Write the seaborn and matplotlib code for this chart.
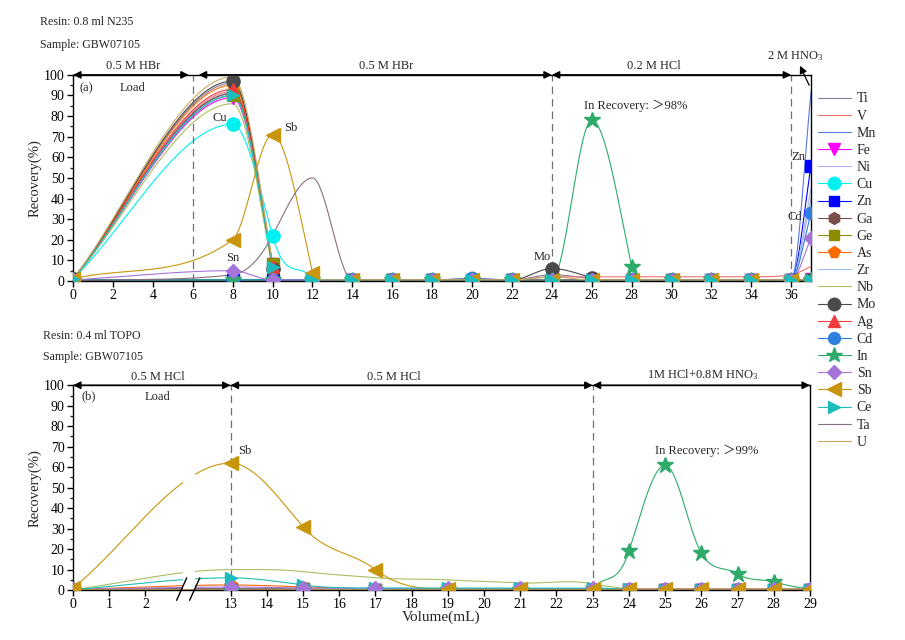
import numpy as np
import pandas as pd
import matplotlib
matplotlib.use("Agg")
import matplotlib.pyplot as plt
from matplotlib.lines import Line2D
from matplotlib.ticker import MultipleLocator
import seaborn as sns

sns.set_theme(style="ticks")
plt.rcParams["font.family"] = ["Liberation Serif", "Noto Sans CJK SC", "DejaVu Sans"]
plt.rcParams["mathtext.fontset"] = "custom"
plt.rcParams["mathtext.rm"] = "Liberation Serif"
plt.rcParams["mathtext.it"] = "Liberation Serif:italic"

# ---------------- data ----------------
elements = ["Ti", "V", "Mn", "Fe", "Ni", "Cu", "Zn", "Ga", "Ge", "As", "Zr",
            "Nb", "Mo", "Ag", "Cd", "In", "Sn", "Sb", "Ce", "Ta", "U"]

# panel (a): 0.8 ml N235
vol_a = [0, 8, 10, 12, 14, 16, 18, 20, 22, 24, 26, 28, 30, 32, 34, 36, 37]
rec_a = {
    "Ti": [1, 96, 7, 0.5, 0.5, 0.5, 0.5, 0.5, 0.5, 3, 1, 0.5, 0.5, 0.5, 0.5, 0.5, 0.5],
    "V":  [1, 92, 6, 0.5, 0.5, 0.5, 0.5, 0.5, 0.5, 2, 2, 2, 2, 2, 2, 3, 7],
    "Mn": [1, 91, 6, 0.5, 0.5, 0.5, 0.5, 0.5, 0.5, 0.5, 0.5, 0.5, 0.5, 0.5, 0.5, 0.5, 92],
    "Fe": [1, 89, 8, 0.5, 0.5, 0.5, 0.5, 0.5, 0.5, 0.5, 0.5, 0.5, 0.5, 0.5, 0.5, 0.5, 1],
    "Ni": [1, 91, 6, 0.5, 0.5, 0.5, 0.5, 0.5, 0.5, 0.5, 0.5, 0.5, 0.5, 0.5, 0.5, 0.5, 40],
    "Cu": [1, 76, 22, 1, 0.5, 0.5, 0.5, 0.5, 0.5, 0.5, 0.5, 0.5, 0.5, 0.5, 0.5, 0.5, 0.5],
    "Zn": [0.5, 0.5, 0.5, 0.5, 0.5, 0.5, 0.5, 0.5, 0.5, 0.5, 0.5, 0.5, 0.5, 0.5, 0.5, 0.5, 56],
    "Ga": [1, 91, 8, 0.5, 0.5, 0.5, 0.5, 0.5, 0.5, 0.5, 0.5, 0.5, 0.5, 0.5, 0.5, 0.5, 0.5],
    "Ge": [1, 90, 8, 0.5, 0.5, 0.5, 0.5, 0.5, 0.5, 0.5, 0.5, 0.5, 0.5, 0.5, 0.5, 0.5, 0.5],
    "As": [1, 95, 7, 0.5, 0.5, 0.5, 0.5, 0.5, 0.5, 0.5, 0.5, 0.5, 0.5, 0.5, 0.5, 0.5, 0.5],
    "Zr": [1, 90, 6, 0.5, 0.5, 0.5, 0.5, 0.5, 0.5, 0.5, 0.5, 0.5, 0.5, 0.5, 0.5, 0.5, 45],
    "Nb": [1, 86, 5, 0.5, 0.5, 0.5, 0.5, 0.5, 0.5, 0.5, 0.5, 0.5, 0.5, 0.5, 0.5, 0.5, 0.5],
    "Mo": [1, 97, 6, 0.5, 0.5, 0.5, 0.5, 0.5, 0.5, 6, 1.5, 0.5, 0.5, 0.5, 0.5, 0.5, 0.5],
    "Ag": [1, 93, 7, 0.5, 0.5, 0.5, 0.5, 1, 0.5, 0.5, 0.5, 0.5, 0.5, 0.5, 0.5, 0.5, 0.5],
    "Cd": [0.5, 0.5, 0.5, 0.5, 0.5, 0.5, 0.5, 1.2, 0.5, 0.5, 0.5, 0.5, 0.5, 0.5, 0.5, 0.5, 33],
    "In": [0.5, 0.5, 0.5, 0.5, 0.5, 0.5, 0.5, 0.5, 0.5, 0.5, 78, 7, 0.5, 0.5, 0.5, 0.5, 0.5],
    "Sn": [0.5, 5, 0.5, 0.5, 0.5, 0.5, 0.5, 0.5, 0.5, 0.5, 0.5, 0.5, 0.5, 0.5, 0.5, 0.5, 21],
    "Sb": [1, 20, 71, 4, 0.5, 0.5, 0.5, 0.5, 0.5, 0.5, 0.5, 0.5, 0.5, 0.5, 0.5, 0.5, 0.5],
    "Ce": [1, 90, 7, 0.5, 0.5, 0.5, 0.5, 0.5, 0.5, 0.5, 0.5, 0.5, 0.5, 0.5, 0.5, 0.5, 0.5],
    "Ta": [0, 3, 22, 50, 0.5, 0.5, 0.5, 0.5, 0.5, 0.5, 0.5, 0.5, 0.5, 0.5, 0.5, 0.5, 0.5],
    "U":  [1, 99, 8, 0.5, 0.5, 0.5, 0.5, 0.5, 0.5, 2, 0.5, 0.5, 0.5, 0.5, 0.5, 0.5, 0.5],
}

# panel (b): 0.4 ml TOPO
vol_b = [0, 13, 15, 17, 19, 21, 23, 24, 25, 26, 27, 28, 29]
rec_b = {
    "Ti": [0.2, 0.3, 0.2, 0.2, 0.2, 0.2, 0.2, 0.2, 0.2, 0.2, 0.2, 0.2, 0.2],
    "V":  [0.2, 0.3, 0.2, 0.2, 0.2, 0.2, 0.2, 0.2, 0.2, 0.2, 0.2, 0.2, 0.2],
    "Mn": [0.2, 0.3, 0.2, 0.2, 0.2, 0.2, 0.2, 0.2, 0.2, 0.2, 0.2, 0.2, 0.2],
    "Fe": [0.2, 0.5, 0.3, 0.2, 0.2, 0.2, 0.2, 0.2, 0.2, 0.2, 0.2, 0.2, 0.2],
    "Ni": [0.2, 0.3, 0.2, 0.2, 0.2, 0.2, 0.2, 0.2, 0.2, 0.2, 0.2, 0.2, 0.2],
    "Cu": [0.2, 0.4, 0.3, 0.2, 0.2, 0.2, 0.2, 0.2, 0.2, 0.2, 0.2, 0.2, 0.2],
    "Zn": [0.2, 0.5, 0.3, 0.2, 0.2, 0.2, 0.2, 0.2, 0.2, 0.2, 0.2, 0.2, 0.2],
    "Ga": [0.2, 0.6, 0.3, 0.2, 0.2, 0.2, 0.2, 0.2, 0.2, 0.2, 0.2, 0.2, 0.2],
    "Ge": [0.2, 0.5, 0.3, 0.2, 0.2, 0.2, 0.2, 0.2, 0.2, 0.2, 0.2, 0.2, 0.2],
    "As": [0.3, 2.5, 1.5, 0.5, 0.3, 0.3, 0.3, 0.3, 0.3, 0.3, 0.3, 0.3, 0.3],
    "Zr": [0.2, 0.4, 0.3, 0.2, 0.2, 0.2, 0.2, 0.2, 0.2, 0.2, 0.2, 0.2, 0.2],
    "Nb": [0.2, 10, 9, 6, 5, 3.5, 3, 0.3, 0.2, 0.2, 0.2, 0.2, 0.2],
    "Mo": [0.2, 0.6, 0.3, 0.2, 0.2, 0.2, 0.2, 0.2, 0.2, 0.2, 0.2, 0.2, 0.2],
    "Ag": [0.2, 0.5, 0.3, 0.2, 0.2, 0.2, 0.2, 0.2, 0.2, 0.2, 0.2, 0.2, 0.2],
    "Cd": [0.2, 0.5, 0.3, 0.2, 0.2, 0.2, 0.2, 0.2, 0.2, 0.2, 0.2, 0.2, 0.2],
    "In": [0.2, 0.2, 0.2, 0.2, 0.2, 0.2, 0.5, 19, 61, 18, 8, 4, 0.2],
    "Sn": [0.3, 1.5, 1, 0.8, 0.8, 0.8, 0.8, 0.6, 0.6, 0.6, 0.6, 0.6, 0.6],
    "Sb": [1, 62, 31, 10, 0.5, 0.5, 0.5, 0.5, 0.5, 0.5, 0.5, 0.5, 0.5],
    "Ce": [0.2, 6, 2.5, 1, 1, 1, 1, 0.3, 0.2, 0.2, 0.2, 0.2, 0.2],
    "Ta": [0.2, 0.3, 0.2, 0.2, 0.2, 0.2, 0.2, 0.2, 0.2, 0.2, 0.2, 0.2, 0.2],
    "U":  [0.2, 0.4, 0.3, 0.2, 0.2, 0.2, 0.2, 0.2, 0.2, 0.2, 0.2, 0.2, 0.2],
}

xticks_a = list(range(0, 37, 2))
xticks_b = [0, 1, 2] + list(range(13, 30))

# ---------------- styles ----------------
colors = {
    "Ti": "#857A9A", "V": "#F07070", "Mn": "#5A78E6", "Fe": "#FF00FF",
    "Ni": "#B8A8F0", "Cu": "#00F0F0", "Zn": "#0000FF", "Ga": "#7A4F4A",
    "Ge": "#8C8C00", "As": "#FF6A00", "Zr": "#9CC0F0", "Nb": "#A8C060",
    "Mo": "#4A4A4A", "Ag": "#EE3B3B", "Cd": "#2F7FE0", "In": "#2EAA6A",
    "Sn": "#A674D9", "Sb": "#C9950C", "Ce": "#1CBCBC", "Ta": "#86707F",
    "U": "#C8A860",
}
markers = {
    "Fe": ("v", 9), "Cu": ("o", 9.5), "Zn": ("s", 8), "Ga": ("h", 9),
    "Ge": ("s", 8), "As": ("p", 9), "Mo": ("o", 9.5), "Ag": ("^", 9),
    "Cd": ("o", 9), "In": ("*", 12), "Sn": ("D", 7.5), "Sb": ("<", 10),
    "Ce": (">", 9),
}

# broken axis for panel (b)
B0, B1, D1 = 3.2, 13.0, 4.35


def fwd(x):
    x = np.asarray(x, float)
    return np.where(x <= B0, x, np.where(x >= B1, x - B1 + D1,
                    B0 + (x - B0) * (D1 - B0) / (B1 - B0)))


def inv(d):
    d = np.asarray(d, float)
    return np.where(d <= B0, d, np.where(d >= D1, d - D1 + B1,
                    B0 + (d - B0) * (B1 - B0) / (D1 - B0)))


def tangents(x, y):
    n = len(x)
    h = np.diff(x)
    d = np.diff(y) / h
    m = np.zeros(n)
    m[0], m[-1] = d[0], d[-1]
    for i in range(1, n - 1):
        if d[i - 1] * d[i] <= 0:
            continue
        s = np.sign(d[i - 1])
        mi = 1.3 * max(abs(d[i - 1]), abs(d[i]))
        j = i - 1 if s > 0 else i
        far = y[i - 1] if s > 0 else y[i + 1]
        if not (far <= 1 and h[j] <= 2.5):
            mi = min(mi, 3 * abs(d[j]))
        m[i] = s * mi
    return m


def smooth(x, y, per=60):
    x = np.asarray(x, float)
    y = np.asarray(y, float)
    m = tangents(x, y)
    xs, ys = [], []
    n = len(x)
    for i in range(n - 1):
        h = x[i + 1] - x[i]
        t = np.linspace(0, 1, per, endpoint=(i == n - 2))
        h00 = 2 * t**3 - 3 * t**2 + 1
        h10 = t**3 - 2 * t**2 + t
        h01 = -2 * t**3 + 3 * t**2
        h11 = t**3 - t**2
        xs.append(x[i] + t * h)
        ys.append(h00 * y[i] + h10 * h * m[i] + h01 * y[i + 1] + h11 * h * m[i + 1])
    return np.concatenate(xs), np.concatenate(ys)


# ---------------- figure ----------------
fig = plt.figure(figsize=(9.05, 6.4), dpi=100)
ax_a = fig.add_axes([0.0807, 0.561, 0.8156, 0.322])
ax_b = fig.add_axes([0.0807, 0.078, 0.8143, 0.320])
ax_b.set_xscale("function", functions=(fwd, inv))

# panel a curves
rows = []
for el in elements:
    xs, ys = smooth(vol_a, rec_a[el])
    rows.append(pd.DataFrame({"x": xs, "y": ys, "el": el}))
df_a = pd.concat(rows, ignore_index=True)
sns.lineplot(data=df_a, x="x", y="y", hue="el", hue_order=elements, palette=colors,
             sort=False, estimator=None, lw=0.8, legend=False, ax=ax_a)
for el in elements:
    if el in markers:
        m, ms = markers[el]
        ax_a.plot(vol_a, rec_a[el], ls="none", marker=m, ms=ms, color=colors[el],
                  mec=colors[el], zorder=3)

# panel b curves (smoothed in the broken-axis display coordinate)
rows = []
for el in elements:
    ds, ys = smooth(fwd(vol_b), rec_b[el])
    rows.append(pd.DataFrame({"x": inv(ds), "y": ys, "el": el}))
df_b = pd.concat(rows, ignore_index=True)
sns.lineplot(data=df_b, x="x", y="y", hue="el", hue_order=elements, palette=colors,
             sort=False, estimator=None, lw=0.8, legend=False, ax=ax_b)
order_b = [e for e in elements if e not in ("Sn", "Sb")] + ["Sn", "Sb"]
for el in order_b:
    if el in markers:
        m, ms = markers[el]
        ax_b.plot(vol_b, rec_b[el], ls="none", marker=m, ms=ms, color=colors[el],
                  mec=colors[el], zorder=3)

# axes cosmetics
for ax in (ax_a, ax_b):
    ax.set_ylim(0, 100)
    ax.yaxis.set_major_locator(MultipleLocator(10))
    ax.yaxis.set_minor_locator(MultipleLocator(5))
    ax.tick_params(axis="both", which="major", direction="out", length=4, width=1,
                   labelsize=10, colors="black", pad=2)
    ax.tick_params(axis="y", which="minor", direction="out", length=2.5, width=1)
    for s in ax.spines.values():
        s.set_color("black")
        s.set_linewidth(1)
        s.set_visible(True)
    ax.set_ylabel("Recovery(%)", fontsize=10.5, labelpad=2)
    ax.set_xlabel("")

ax_a.set_xlim(0, 37)
ax_a.set_xticks(xticks_a)
ax_b.set_xlim(0, 29)
ax_b.set_xticks(xticks_b)
ax_b.set_xticklabels([str(v) for v in xticks_b])
ax_b.xaxis.set_minor_locator(matplotlib.ticker.NullLocator())
ax_b.set_xlabel("Volume(mL)", fontsize=11, labelpad=-1)

# dashed separators
for v in (6, 24, 36):
    ax_a.plot([v, v], [0, 100], color="#707070", lw=0.9, ls=(0, (6, 4)), zorder=2.2)
for v in (13, 23):
    ax_b.plot([v, v], [0, 100], color="#707070", lw=0.9, ls=(0, (6, 4)), zorder=2.2)

# break in panel b
ax_b.axvspan(float(inv(3.03)), float(inv(3.36)), ymin=0.004, ymax=0.99, color="white",
             zorder=2.3, lw=0)
for dc in (3.0, 3.36):
    ax_b.plot(inv([dc - 0.14, dc + 0.14]), [-5, 6], color="black", lw=1,
              clip_on=False, zorder=5)

# arrows along top
arrow_kw = dict(arrowstyle="<|-|>", color="black", lw=1.1, shrinkA=0, shrinkB=0,
                mutation_scale=11)
for a0, a1 in ((0, 5.8), (6.3, 24), (24, 36)):
    ax_a.annotate("", xy=(a0, 100), xytext=(a1, 100), arrowprops=arrow_kw,
                  annotation_clip=False)
for a0, a1 in ((0, 13), (13, 23), (23, 29)):
    ax_b.annotate("", xy=(a0, 100), xytext=(a1, 100), arrowprops=arrow_kw,
                  annotation_clip=False)
ax_a.annotate("2 M HNO$_3$", xy=(36.9, 95), xytext=(36.2, 106), fontsize=9,
              ha="center", va="bottom", annotation_clip=False,
              arrowprops=dict(arrowstyle="<|-", color="black", lw=0.9,
                              shrinkA=0, shrinkB=0, mutation_scale=11))

tk = dict(fontsize=9, ha="center", va="center")
ax_a.text(3, 104.5, "0.5 M HBr", clip_on=False, **tk)
ax_a.text(3, 93.5, "Load", **tk)
ax_a.text(0.65, 93.5, "(a)", **tk)
ax_a.text(15.7, 104.5, "0.5 M HBr", clip_on=False, **tk)
ax_a.text(29.1, 104.5, "0.2 M HCl", clip_on=False, **tk)
ax_a.text(7.35, 79, "Cu", **tk)
ax_a.text(10.9, 74, "Sb", **tk)
ax_a.text(8.0, 11, "Sn", **tk)
ax_a.text(23.5, 11.5, "Mo", **tk)
ax_a.text(36.35, 60, "Zn", **tk)
ax_a.text(36.2, 31, "Cd", **tk)
ax_a.text(28.2, 85, "In Recovery: ＞98%", **tk)

ax_b.text(2.34, 104, "0.5 M HCl", clip_on=False, **tk)
ax_b.text(2.32, 94.5, "Load", **tk)
ax_b.text(0.42, 94.5, "(b)", **tk)
ax_b.text(17.5, 104, "0.5 M HCl", clip_on=False, **tk)
ax_b.text(26.05, 105, "1M HCl+0.8M HNO$_3$", clip_on=False, **tk)
ax_b.text(13.4, 68, "Sb", **tk)
ax_b.text(26.15, 68, "In Recovery: ＞99%", **tk)

fig.text(0.044, 0.966, "Resin: 0.8 ml N235", fontsize=8.6, ha="left", va="center")
fig.text(0.044, 0.930, "Sample: GBW07105", fontsize=8.6, ha="left", va="center")
fig.text(0.047, 0.475, "Resin: 0.4 ml TOPO", fontsize=8.6, ha="left", va="center")
fig.text(0.047, 0.442, "Sample: GBW07105", fontsize=8.6, ha="left", va="center")

# legend
handles = []
for el in elements:
    if el in markers:
        m, ms = markers[el]
        handles.append(Line2D([0], [0], color=colors[el], lw=0.8, marker=m,
                              ms=ms * 0.95, mec=colors[el], label=el))
    else:
        handles.append(Line2D([0], [0], color=colors[el], lw=0.8, label=el))
fig.legend(handles=handles, loc="upper left", bbox_to_anchor=(0.9036, 0.8555),
           frameon=False, fontsize=10, handlelength=2.4, handletextpad=0.4,
           labelspacing=0.30, borderaxespad=0, borderpad=0)

fig.savefig("out.png", dpi=100)
